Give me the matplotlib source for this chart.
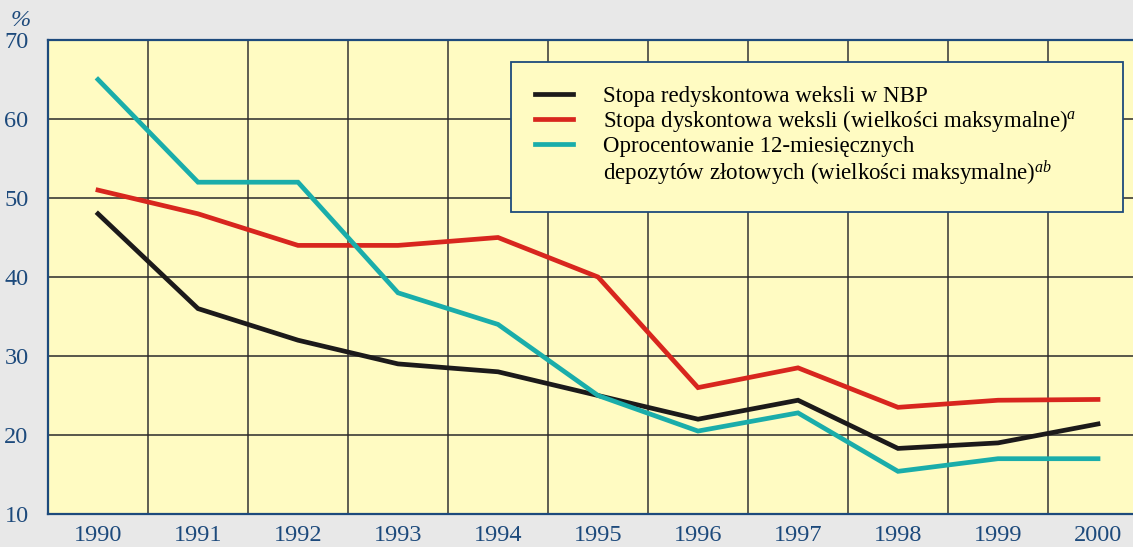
import matplotlib
matplotlib.use('Agg')
import matplotlib.pyplot as plt
from matplotlib.lines import Line2D

plt.rcParams['font.family'] = 'Liberation Serif'
plt.rcParams['mathtext.fontset'] = 'custom'
plt.rcParams['mathtext.rm'] = 'Liberation Serif'
plt.rcParams['mathtext.it'] = 'Liberation Serif:italic'

years = ['1990', '1991', '1992', '1993', '1994', '1995', '1996', '1997', '1998', '1999', '2000']
redyskontowa = [48, 36, 32, 29, 28, 25, 22, 24.4, 18.3, 19.0, 21.4]
dyskontowa = [51, 48, 44, 44, 45, 40, 26, 28.5, 23.5, 24.4, 24.5]
depozyty = [65, 52, 52, 38, 34, 25, 20.5, 22.8, 15.4, 17.0, 17.0]

labels = ['Stopa redyskontowa weksli w NBP',
          'Stopa dyskontowa weksli (wielkości maksymalne)$^{a}$',
          'Oprocentowanie 12-miesięcznych',
          'depozytów złotowych (wielkości maksymalne)$^{ab}$']
colors = ['#1c1a1a', '#d8261e', '#1aadaa']

bg = '#e8e8e8'
plotbg = '#fffbc2'
blue = '#1d4a7c'

fig = plt.figure(figsize=(11.33, 5.47), dpi=100, facecolor=bg)
ax = fig.add_axes([48/1133, 33/547, 1100/1133, 474/547])
ax.set_facecolor(plotbg)

x = list(range(len(years)))
for ys, c in zip([redyskontowa, dyskontowa, depozyty], colors):
    ax.plot(x, ys, color=c, lw=3.4, solid_joinstyle='miter', zorder=3)

ax.set_xlim(-0.5, len(years) - 0.5)
ax.set_ylim(10, 70)
ax.set_yticks(range(10, 71, 10))
ax.set_xticks(x)
ax.set_xticklabels(years)
ax.set_xticks([i + 0.5 for i in x[:-1]], minor=True)
ax.tick_params(axis='both', which='both', length=0, labelsize=17.5, labelcolor=blue)
ax.tick_params(axis='y', pad=14)
ax.tick_params(axis='x', pad=8)
ax.grid(True, which='minor', axis='x', color='#333333', lw=1.1)
ax.grid(True, which='major', axis='y', color='#2a2a2a', lw=1.1)
for s in ax.spines.values():
    s.set_color(blue)
    s.set_linewidth(1.6)

fig.text(21/1133, 1 - 20/547, '%', fontsize=17.5, style='italic', color=blue, ha='center', va='center')

handles = [Line2D([], [], color=c, lw=3.4) for c in colors]
handles.append(Line2D([], [], color='none', lw=0))
leg = ax.legend(handles, labels, loc='upper left',
                bbox_to_anchor=(511/1133, 1 - 62/547, 612/1133, 0.0),
                bbox_transform=fig.transFigure, mode='expand',
                fontsize=16.5, frameon=True, fancybox=False, framealpha=1,
                facecolor=plotbg, edgecolor=blue, handlelength=1.65,
                handletextpad=1.3, borderpad=1.05, labelspacing=0.06,
                borderaxespad=0)
leg.get_frame().set_linewidth(1.3)
leg.set_zorder(5)

fig.savefig('out.png', dpi=100, facecolor=bg)
